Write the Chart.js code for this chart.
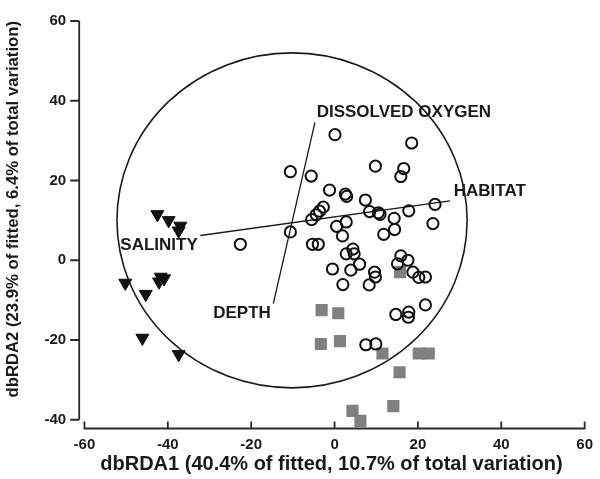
<!DOCTYPE html>
<html lang="en">
<head>
    <meta charset="UTF-8">
    <title>dbRDA ordination</title>
    <script src="https://cdn.jsdelivr.net/npm/chart.js"></script>
    <style>
        html, body { margin: 0; padding: 0; background: #fff; }
        .chart-box { position: relative; width: 600px; height: 479px; }
    </style>
</head>
<body>
<div class="chart-box"><canvas id="rdaChart"></canvas></div>
<script>
// axis ticks
const xTicks = [-60, -40, -20, 0, 20, 40, 60];
const yTicks = [-40, -20, 0, 20, 40, 60];

// sample scores
const trianglePoints = [
    [-42.5, 11.5], [-39.8, 10.0], [-37.0, 8.6], [-37.4, 7.4],
    [-50.2, -5.7], [-41.7, -4.2], [-40.9, -4.6], [-42.1, -5.4],
    [-45.3, -8.5], [-46.1, -19.5], [-37.4, -23.6]
];
const circlePoints = [
    [0.1, 31.5], [-10.6, 22.2], [-5.6, 21.1], [9.8, 23.6], [18.5, 29.4],
    [16.6, 23.0], [15.9, 21.0], [-1.2, 17.6], [2.6, 16.6], [2.9, 16.0],
    [7.4, 15.1], [24.1, 14.0], [-2.7, 13.3], [-3.6, 12.3], [-4.4, 11.4],
    [-5.5, 10.2], [8.4, 12.2], [10.5, 11.9], [10.9, 11.5], [17.8, 12.4],
    [14.3, 10.5], [23.6, 9.2], [0.5, 8.5], [2.8, 9.6], [-10.6, 7.1],
    [-22.6, 4.0], [-5.3, 4.0], [-3.9, 4.0], [1.9, 6.1], [11.8, 6.5],
    [14.4, 7.7], [2.8, 1.6], [4.4, 2.8], [4.7, 1.6], [6.0, -1.0],
    [3.9, -2.5], [-0.5, -2.2], [2.0, -6.1], [8.3, -6.2], [9.6, -3.0],
    [9.8, -4.2], [15.9, 1.1], [17.6, 0.0], [15.1, -0.9], [18.8, -3.0],
    [20.2, -4.3], [21.8, -4.2], [21.8, -11.2], [14.7, -13.6], [17.8, -13.0],
    [17.7, -14.3], [7.5, -21.2], [9.9, -21.0]
];
const squarePoints = [
    [-3.1, -12.5], [0.9, -13.3], [-3.3, -21.0], [1.3, -20.3],
    [11.5, -23.4], [20.2, -23.4], [22.6, -23.4], [15.6, -28.1],
    [4.3, -37.8], [6.2, -40.3], [14.1, -36.6], [15.7, -3.0]
];

// vector overlay
const habitatVector = [[-32.2, 6.2], [27.7, 14.9]];
const depthVector = [[-14.7, -10.9], [-4.7, 34.6]];
const vectorLabels = ['DISSOLVED OXYGEN', 'HABITAT', 'SALINITY', 'DEPTH'];
const labelX = [-4.3, 28.6, -51.4, -29.1];
const labelY = [37.1, 17.3, 3.7, -13.4];
const circleCenter = [-10.2, 10.0];
const circleRadius = 42;

const X_MIN = -61.5, X_MAX = 60;
const Y_MIN = -42.2, Y_MAX = 60;
const FONT = "'Liberation Sans', Arial, sans-serif";
const INK = '#1a1a1a';

const toXY = arr => arr.map(p => ({ x: p[0], y: p[1] }));

const overlayPlugin = {
    id: 'overlay',
    beforeDraw(chart) {
        const ctx = chart.ctx;
        ctx.save();
        ctx.fillStyle = '#fff';
        ctx.fillRect(0, 0, chart.width, chart.height);
        ctx.restore();
    },
    beforeDatasetsDraw(chart) {
        const { ctx, scales: { x, y } } = chart;
        const cx = x.getPixelForValue(circleCenter[0]);
        const cy = y.getPixelForValue(circleCenter[1]);
        const rx = x.getPixelForValue(circleCenter[0] + circleRadius) - cx;
        const ry = cy - y.getPixelForValue(circleCenter[1] + circleRadius);
        ctx.save();
        ctx.strokeStyle = INK;
        ctx.lineWidth = 1.6;
        ctx.beginPath();
        ctx.ellipse(cx, cy, rx, ry, 0, 0, Math.PI * 2);
        ctx.stroke();
        ctx.restore();
    },
    afterDatasetsDraw(chart) {
        const { ctx, scales: { x, y } } = chart;
        ctx.save();
        // vector labels
        ctx.fillStyle = INK;
        ctx.font = "bold 17px " + FONT;
        ctx.textBaseline = 'middle';
        ctx.textAlign = 'left';
        vectorLabels.forEach((t, i) => {
            ctx.fillText(t, x.getPixelForValue(labelX[i]), y.getPixelForValue(labelY[i]));
        });
        // offset axes, prism style
        const ax = x.getPixelForValue(X_MIN) + 1;
        const ay = y.getPixelForValue(Y_MIN);
        ctx.strokeStyle = '#2a2a2a';
        ctx.lineWidth = 1.8;
        ctx.beginPath();
        ctx.moveTo(ax, y.getPixelForValue(yTicks[yTicks.length - 1]));
        ctx.lineTo(ax, y.getPixelForValue(yTicks[0]));
        yTicks.forEach(v => {
            const py = y.getPixelForValue(v);
            ctx.moveTo(ax - 9, py);
            ctx.lineTo(ax, py);
        });
        ctx.moveTo(x.getPixelForValue(xTicks[0]), ay);
        ctx.lineTo(x.getPixelForValue(xTicks[xTicks.length - 1]), ay);
        xTicks.forEach(v => {
            const px = x.getPixelForValue(v);
            ctx.moveTo(px, ay + 1);
            ctx.lineTo(px, ay - 7);
        });
        ctx.stroke();
        ctx.restore();
    }
};

new Chart(document.getElementById('rdaChart'), {
    type: 'scatter',
    data: {
        datasets: [
            {
                data: toXY(circlePoints),
                pointStyle: 'circle',
                pointRadius: 5.6,
                backgroundColor: 'rgba(0,0,0,0)',
                borderColor: '#111',
                borderWidth: 2
            },
            {
                data: toXY(habitatVector),
                showLine: true,
                pointRadius: 0,
                borderColor: INK,
                borderWidth: 1.3
            },
            {
                data: toXY(depthVector),
                showLine: true,
                pointRadius: 0,
                borderColor: INK,
                borderWidth: 1.3
            },
            {
                data: toXY(trianglePoints),
                pointStyle: 'triangle',
                rotation: 180,
                pointRadius: 7.5,
                backgroundColor: '#111',
                borderColor: '#111',
                borderWidth: 1
            },
            {
                data: toXY(squarePoints),
                pointStyle: 'rect',
                pointRadius: 8.6,
                backgroundColor: '#808080',
                borderColor: '#808080',
                borderWidth: 0
            }
        ]
    },
    options: {
        responsive: true,
        maintainAspectRatio: false,
        animation: false,
        layout: { padding: { top: 15.6, right: 8, left: 0, bottom: 0 } },
        plugins: { legend: { display: false }, tooltip: { enabled: false } },
        scales: {
            x: {
                type: 'linear',
                min: X_MIN,
                max: X_MAX,
                grid: { display: false, drawTicks: false },
                border: { display: false },
                afterBuildTicks: s => { s.ticks = xTicks.map(v => ({ value: v })); },
                afterFit: s => { s.height = 50.5; },
                ticks: {
                    padding: 7,
                    color: INK,
                    font: { family: FONT, size: 15, weight: 'bold' }
                },
                title: {
                    display: true,
                    text: 'dbRDA1 (40.4% of fitted, 10.7% of total variation)',
                    color: INK,
                    padding: { top: 0, bottom: 3 },
                    font: { family: FONT, size: 20, weight: 'bold' }
                }
            },
            y: {
                type: 'linear',
                min: Y_MIN,
                max: Y_MAX,
                grid: { display: false, drawTicks: false },
                border: { display: false },
                afterBuildTicks: s => { s.ticks = yTicks.map(v => ({ value: v })); },
                afterFit: s => { s.width = 78.2; },
                ticks: {
                    padding: 12,
                    color: INK,
                    font: { family: FONT, size: 15, weight: 'bold' }
                },
                title: {
                    display: true,
                    align: 'end',
                    text: 'dbRDA2 (23.9% of fitted, 6.4% of total variation)',
                    color: INK,
                    padding: { top: 3, bottom: 0 },
                    font: { family: FONT, size: 16.7, weight: 'bold' }
                }
            }
        }
    },
    plugins: [overlayPlugin]
});
</script>
</body>
</html>
